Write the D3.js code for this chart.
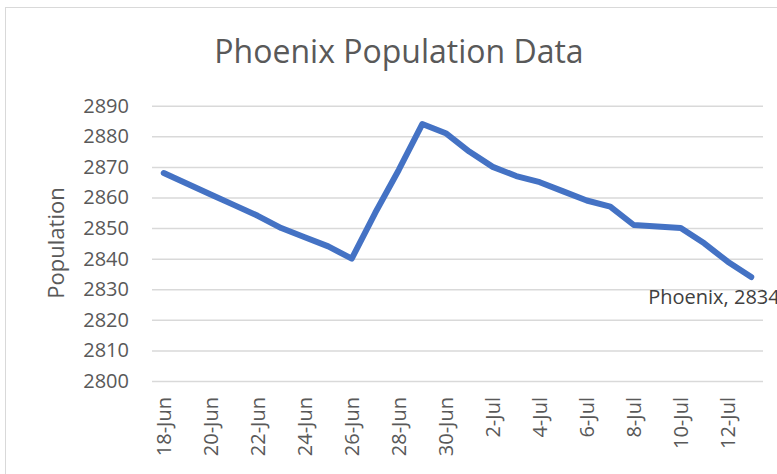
<!DOCTYPE html>
<html>
<head>
<meta charset="utf-8">
<script src="https://cdn.jsdelivr.net/npm/d3@7"></script>
<style>
  body { margin: 0; background: #fff; }
  text { font-family: "Open Sans", sans-serif; }
</style>
</head>
<body>
<svg id="svg" width="777" height="474"></svg>
<script>
// data
let dates = ['2020-06-18', '2020-06-19', '2020-06-20', '2020-06-21', '2020-06-22', '2020-06-23',
    '2020-06-24', '2020-06-25', '2020-06-26', '2020-06-27', '2020-06-28', '2020-06-29', '2020-06-30',
    '2020-07-01', '2020-07-02', '2020-07-03', '2020-07-04', '2020-07-05', '2020-07-06', '2020-07-07',
    '2020-07-08', '2020-07-09', '2020-07-10', '2020-07-11', '2020-07-12', '2020-07-13'];
let population = [2868, 2864.5, 2861, 2857.5, 2854, 2850, 2847, 2844, 2840, 2855, 2869, 2884, 2881,
    2875, 2870, 2867, 2865, 2862, 2859, 2857, 2851, 2850.5, 2850, 2845, 2839, 2834];
let yTicks = [2800, 2810, 2820, 2830, 2840, 2850, 2860, 2870, 2880, 2890];
let xTickDates = ['2020-06-18', '2020-06-20', '2020-06-22', '2020-06-24', '2020-06-26', '2020-06-28',
    '2020-06-30', '2020-07-02', '2020-07-04', '2020-07-06', '2020-07-08', '2020-07-10', '2020-07-12'];
let xTickLabels = ['18-Jun', '20-Jun', '22-Jun', '24-Jun', '26-Jun', '28-Jun', '30-Jun',
    '2-Jul', '4-Jul', '6-Jul', '8-Jul', '10-Jul', '12-Jul'];
let seriesName = 'Phoenix';

let svg = d3.select('#svg');
let parse = d3.utcParse('%Y-%m-%d');
let data = dates.map((d, i) => ({ date: parse(d), value: population[i] }));

// plot area
let plot = { l: 152, r: 763, t: 105.7, b: 381 };
let halfDay = 12 * 3600 * 1000;

let xScale = d3.scaleUtc()
    .domain([new Date(data[0].date - halfDay), new Date(+data[data.length - 1].date + halfDay)])
    .range([plot.l, plot.r]);

let yScale = d3.scaleLinear()
    .domain([2800, 2890])
    .range([plot.b, plot.t]);

// chart border
svg.append('rect')
    .attr('x', 5.5).attr('y', 7.5)
    .attr('width', 820).attr('height', 520)
    .attr('fill', 'none')
    .attr('stroke', '#d9d9d9');

// title
svg.append('text')
    .attr('x', 399).attr('y', 63)
    .attr('text-anchor', 'middle')
    .attr('font-size', '32px')
    .attr('fill', '#595959')
    .text('Phoenix Population Data');

// y gridlines + labels
let yAxis = d3.axisLeft(yScale)
    .tickValues(yTicks)
    .tickSize(-(plot.r - plot.l))
    .tickPadding(23)
    .tickFormat(d3.format('d'));

let yG = svg.append('g')
    .attr('transform', 'translate(' + plot.l + ',0)')
    .call(yAxis);
yG.select('.domain').remove();
yG.selectAll('line').attr('stroke', '#d9d9d9').attr('stroke-width', 1.5);
yG.selectAll('text')
    .attr('font-size', '20px')
    .attr('font-family', '"Open Sans", sans-serif')
    .attr('fill', '#595959');

// x labels
let xAxis = d3.axisBottom(xScale)
    .tickValues(xTickDates.map(parse))
    .tickSize(0)
    .tickFormat((d, i) => xTickLabels[i]);

let xG = svg.append('g')
    .attr('transform', 'translate(0,' + plot.b + ')')
    .call(xAxis);
xG.select('.domain').remove();
xG.selectAll('text')
    .attr('font-size', '20px')
    .attr('font-family', '"Open Sans", sans-serif')
    .attr('fill', '#595959')
    .attr('text-anchor', 'end')
    .attr('transform', 'rotate(-90)')
    .attr('x', -16)
    .attr('y', 0)
    .attr('dy', '0.35em');

// y axis title
svg.append('text')
    .attr('transform', 'translate(64,243) rotate(-90)')
    .attr('text-anchor', 'middle')
    .attr('font-size', '22px')
    .attr('fill', '#595959')
    .text('Population');

// the line
let line = d3.line()
    .x((d) => xScale(d.date))
    .y((d) => yScale(d.value));

svg.append('path')
    .datum(data)
    .attr('d', line)
    .attr('fill', 'none')
    .attr('stroke', '#4472c4')
    .attr('stroke-width', 6)
    .attr('stroke-linejoin', 'round')
    .attr('stroke-linecap', 'round');

// data label on the last point (clipped by the right edge, as in the original)
let last = data[data.length - 1];
svg.append('text')
    .attr('x', xScale(last.date) - 103)
    .attr('y', yScale(last.value) + 27)
    .attr('font-size', '20px')
    .attr('fill', '#404040')
    .text(seriesName + ', ' + last.value);
</script>
</body>
</html>
